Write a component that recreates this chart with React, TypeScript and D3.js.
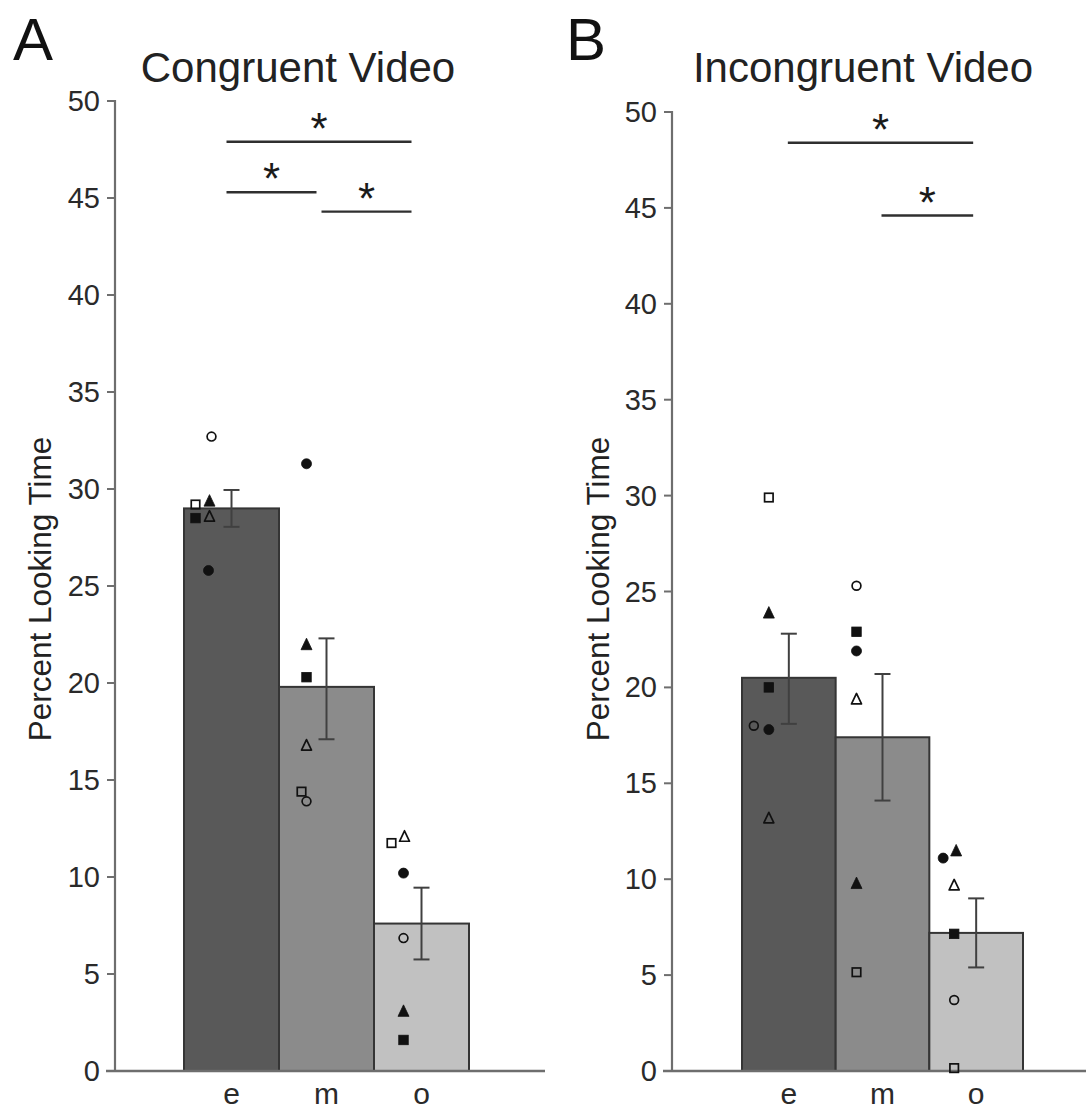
import React from "react";
import * as d3 from "d3";

// Conditions on the x axis
const conditions = ["e", "m", "o"];

// Bar means (percent looking time)
const congruentMeans = [29.0, 19.8, 7.6];
const incongruentMeans = [20.5, 17.4, 7.2];

// Standard-error ranges [low, high]
const congruentErr = [[28.05, 29.95], [17.1, 22.3], [5.75, 9.45]];
const incongruentErr = [[18.1, 22.8], [14.1, 20.7], [5.4, 9.0]];

// Individual participants, one marker each
const participants = ["filledCircle", "filledSquare", "filledTriangle", "openCircle", "openSquare", "openTriangle"];

// Participant values per condition (order follows `participants`)
const congruentE = [25.8, 28.5, 29.4, 32.7, 29.2, 28.6];
const congruentM = [31.3, 20.3, 22.0, 13.9, 14.4, 16.8];
const congruentO = [10.2, 1.6, 3.1, 6.85, 11.75, 12.1];
const incongruentE = [17.8, 20.0, 23.9, 18.0, 29.9, 13.2];
const incongruentM = [21.9, 22.9, 9.8, 25.3, 5.15, 19.4];
const incongruentO = [11.1, 7.15, 11.5, 3.7, 0.15, 9.7];

// Significance brackets: [from, to, level]
const congruentSig: [string, string, number][] = [["e", "o", 47.9], ["e", "m", 45.3], ["m", "o", 44.3]];
const incongruentSig: [string, string, number][] = [["e", "o", 48.4], ["m", "o", 44.6]];

const yTicks = [0, 5, 10, 15, 20, 25, 30, 35, 40, 45, 50];
const barColors = ["#595959", "#8b8b8b", "#c1c1c1"];

// Horizontal nudges (px) for markers relative to the bar centre
const congruentNudge = [
  [-23, -36, -22, -20, -36, -22],
  [-20, -20, -20, -20, -25, -20],
  [-18, -18, -18, -18, -30, -17],
];
const incongruentNudge = [
  [-20, -20, -20, -35, -20, -20],
  [-26, -26, -26, -26, -26, -26],
  [-33, -22, -20, -22, -22, -22],
];

const FONT = "'Liberation Sans', Arial, Helvetica, sans-serif";

type PanelProps = {
  letter: string;
  title: string;
  means: number[];
  err: number[][];
  points: number[][];
  nudge: number[][];
  sig: [string, string, number][];
  axisX: number;
  yTop: number;
  barRange: [number, number];
  axisEnd: number;
  letterX: number;
  titleX: number;
  labelX: number;
  sigInset: [number, number];
};

function Marker({ kind, x, y }: { kind: string; x: number; y: number }) {
  const filled = kind.startsWith("filled");
  const fill = filled ? "#111" : "none";
  const stroke = "#111";
  const sw = filled ? 0.8 : 1.7;
  if (kind.endsWith("Circle")) {
    return <circle cx={x} cy={y} r={filled ? 5 : 4.4} fill={fill} stroke={stroke} strokeWidth={sw} />;
  }
  if (kind.endsWith("Square")) {
    const s = filled ? 9.5 : 8.5;
    return <rect x={x - s / 2} y={y - s / 2} width={s} height={s} fill={fill} stroke={stroke} strokeWidth={sw} />;
  }
  const w = filled ? 11 : 10;
  const h = filled ? 11 : 10;
  const p = d3.path();
  p.moveTo(x, y - h / 2 - 0.5);
  p.lineTo(x + w / 2, y + h / 2);
  p.lineTo(x - w / 2, y + h / 2);
  p.closePath();
  return <path d={p.toString()} fill={fill} stroke={stroke} strokeWidth={sw} strokeLinejoin="round" />;
}

function Panel(props: PanelProps) {
  const { letter, title, means, err, points, nudge, sig, axisX, yTop, barRange, axisEnd, letterX, titleX, labelX, sigInset } = props;
  const baseY = 1071;
  const y = d3.scaleLinear().domain([0, 50]).range([baseY, yTop]);
  const x = d3.scaleBand<string>().domain(conditions).range(barRange).padding(0);
  const bw = x.bandwidth();
  const cx = (c: string) => (x(c) as number) + bw / 2;
  const axisColor = "#6e6e6e";

  return (
    <g>
      <text x={letterX} y={60} fontFamily={FONT} fontSize={60} fill="#111">{letter}</text>
      <text x={titleX} y={82} fontFamily={FONT} fontSize={42} fill="#222" textAnchor="middle">{title}</text>
      <text
        transform={`translate(${labelX},589) rotate(-90)`}
        fontFamily={FONT}
        fontSize={31.5}
        fill="#222"
        textAnchor="middle"
        dominantBaseline="central"
      >
        Percent Looking Time
      </text>

      {/* bars */}
      {conditions.map((c, i) => (
        <rect
          key={c}
          x={x(c)}
          y={y(means[i])}
          width={bw}
          height={baseY - y(means[i])}
          fill={barColors[i]}
          stroke="#353535"
          strokeWidth={2}
        />
      ))}

      {/* axes */}
      <line x1={axisX} x2={axisX} y1={yTop - 1} y2={baseY} stroke={axisColor} strokeWidth={2.2} />
      <line x1={axisX - 9} x2={axisEnd} y1={baseY} y2={baseY} stroke={axisColor} strokeWidth={2.5} />
      {yTicks.map((t) => (
        <g key={t}>
          <line x1={axisX - 8} x2={axisX} y1={y(t)} y2={y(t)} stroke={axisColor} strokeWidth={2} />
          <text
            x={axisX - 15}
            y={y(t)}
            fontFamily={FONT}
            fontSize={29}
            fill="#2a2a2a"
            textAnchor="end"
            dominantBaseline="central"
          >
            {t}
          </text>
        </g>
      ))}
      {conditions.map((c) => (
        <text key={c} x={cx(c)} y={1104} fontFamily={FONT} fontSize={30} fill="#2a2a2a" textAnchor="middle">
          {c}
        </text>
      ))}

      {/* participant markers */}
      {conditions.map((c, i) =>
        participants.map((kind, k) => (
          <Marker key={c + kind} kind={kind} x={cx(c) + nudge[i][k]} y={y(points[i][k])} />
        ))
      )}

      {/* error bars */}
      {conditions.map((c, i) => (
        <g key={c} stroke="#404040" strokeWidth={2}>
          <line x1={cx(c)} x2={cx(c)} y1={y(err[i][0])} y2={y(err[i][1])} />
          <line x1={cx(c) - 8} x2={cx(c) + 8} y1={y(err[i][0])} y2={y(err[i][0])} />
          <line x1={cx(c) - 8} x2={cx(c) + 8} y1={y(err[i][1])} y2={y(err[i][1])} />
        </g>
      ))}

      {/* significance brackets */}
      {sig.map(([a, b, lvl], i) => {
        const x1 = cx(a) + sigInset[0];
        const x2 = cx(b) + sigInset[1];
        return (
          <g key={i}>
            <line x1={x1} x2={x2} y1={y(lvl)} y2={y(lvl)} stroke="#2f2f2f" strokeWidth={2.4} />
            <text
              x={(x1 + x2) / 2}
              y={y(lvl) + 2}
              fontFamily={FONT}
              fontSize={44}
              fill="#1a1a1a"
              textAnchor="middle"
            >
              *
            </text>
          </g>
        );
      })}
    </g>
  );
}

export default function App() {
  return (
    <svg
      width={1086}
      height={1112}
      viewBox="0 0 1086 1112"
      style={{ position: "absolute", left: 0, top: 0, background: "#fff" }}
    >
      <rect width={1086} height={1112} fill="#fff" />
      <Panel
        letter="A"
        title="Congruent Video"
        means={congruentMeans}
        err={congruentErr}
        points={[congruentE, congruentM, congruentO]}
        nudge={congruentNudge}
        sig={congruentSig}
        axisX={115}
        yTop={101}
        barRange={[184, 469]}
        axisEnd={545}
        letterX={13}
        titleX={298}
        labelX={40}
        sigInset={[-5, -10]}
      />
      <Panel
        letter="B"
        title="Incongruent Video"
        means={incongruentMeans}
        err={incongruentErr}
        points={[incongruentE, incongruentM, incongruentO]}
        nudge={incongruentNudge}
        sig={incongruentSig}
        axisX={672}
        yTop={112}
        barRange={[742, 1023]}
        axisEnd={1086}
        letterX={566}
        titleX={863}
        labelX={598}
        sigInset={[-1, -3]}
      />
    </svg>
  );
}
